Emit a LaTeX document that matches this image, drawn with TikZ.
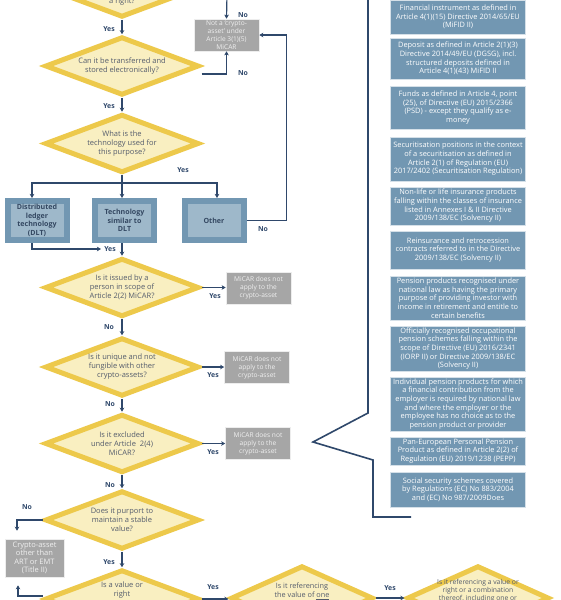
\documentclass[tikz,border=0pt]{standalone}
\usepackage{fontspec}
\setmainfont{Open Sans}
\usetikzlibrary{shapes.geometric,arrows.meta,calc}
\definecolor{gold}{RGB}{237,201,75}
\definecolor{pale}{RGB}{249,239,193}
\definecolor{qtext}{RGB}{84,92,108}
\definecolor{navy}{RGB}{47,72,107}
\definecolor{greybox}{RGB}{166,166,166}
\definecolor{greytext}{RGB}{240,240,240}
\definecolor{bluebox}{RGB}{114,151,178}
\definecolor{bluein}{RGB}{158,184,202}
\definecolor{boxtext}{RGB}{52,72,98}
\tikzset{
  ydiam/.style={diamond, draw=gold, fill=pale, line width=5pt, aspect=2.6, inner sep=0pt,
    minimum width=154pt, minimum height=58.6pt, text=qtext, align=center,
    font=\fontsize{7.5}{9}\selectfont},
  bigdiam/.style={ydiam, minimum width=142pt, minimum height=64.6pt},
  qtxt/.style={text=qtext, align=center, inner sep=0pt, font=\fontsize{7.5}{9}\selectfont},
  greyb/.style={rectangle, fill=greybox, draw=white!80!greybox, line width=0.6pt, text=greytext,
    align=center, inner sep=0pt, minimum width=65pt, minimum height=32pt,
    font=\fontsize{6.6}{8}\selectfont},
  techb/.style={rectangle, fill=bluein, draw=bluebox, line width=6pt, minimum width=59pt,
    minimum height=39pt, text=boxtext, align=center, inner sep=0pt,
    font=\fontsize{7.1}{8.7}\selectfont\bfseries},
  exb/.style={rectangle, fill=bluebox, draw=white!70!bluebox, line width=0.6pt, minimum width=135pt,
    text=white, align=center, inner sep=0pt, font=\fontsize{7.4}{8.7}\selectfont},
  arr/.style={draw=navy, line width=1.2pt, -{Stealth[length=4pt,width=4.5pt,inset=1pt]}},
  plainline/.style={draw=navy, line width=1.2pt},
  lbl/.style={text=navy, inner sep=0pt, font=\fontsize{6.9}{8}\selectfont\bfseries},
  brk/.style={draw=navy, line width=1.6pt},
}
\begin{document}
\begin{tikzpicture}[x=1pt,y=-1pt]
\useasboundingbox (0,0) rectangle (560,600);
\fill[white] (0,0) rectangle (560,600);

% bracket
\draw[brk] (368,-6) -- (368,413) -- (313,442) -- (373,460) -- (373,517) -- (411,517);

% diamonds
\node[ydiam] (d1) at (122,-12) {};
\node[qtxt] (d1t) at (122,2) {a right?};
\node[ydiam] (d2) at (122,66) {Can it be transferred and\\stored electronically?};
\node[ydiam] (d3) at (122,143.5) {What is the\\technology used for\\this purpose?};
\node[ydiam] (d4) at (122,287.5) {Is it issued by a\\person in scope of\\Article 2(2) MiCAR?};
\node[ydiam] (d5) at (122,367) {Is it unique and not\\fungible with other\\crypto-assets?};
\node[ydiam] (d6) at (122,443.5) {Is it excluded\\under Article~~2(4)\\MiCAR?};
\node[ydiam] (d7) at (122,520) {Does it purport to\\maintain a stable\\value?};
\node[ydiam] (d8) at (122,599) {};
\node[qtxt] (d8t) at (122,590.5) {Is a value or\\right};
\node[bigdiam] (d9) at (302,598) {};
\node[qtxt, font=\fontsize{7.3}{9}\selectfont] (d9t) at (302,591.5) {Is it referencing\\the value of \underline{one}};
\node[bigdiam] (d10) at (478,598) {};
\node[qtxt, font=\fontsize{6.8}{8}\selectfont] (d10t) at (478,591) {Is it referencing a value or\\right or a combination\\thereof, including one or};

% technology boxes
\node[techb] (bA) at (37,220.5) {Distributed\\ledger\\technology\\(DLT)};
\node[techb] (bB) at (124.5,220.5) {Technology\\similar to\\DLT};
\node[techb] (bC) at (214,220.5) {Other};

% grey result boxes
\node[greyb] (na) at (226.5,35) {Not a ‘crypto-\\asset’ under\\Article 3(1)(5)\\MiCAR};
\node[greyb] (g1) at (258.5,288) {MiCAR does not\\apply to the\\crypto-asset};
\node[greyb] (g2) at (257,367.5) {MiCAR does not\\apply to the\\crypto-asset};
\node[greyb] (g3) at (258,443.5) {MiCAR does not\\apply to the\\crypto-asset};
\node[greyb, minimum width=59pt, minimum height=38pt, font=\fontsize{7.5}{8.4}\selectfont] (ca) at (34.5,558) {Crypto-asset\\other than\\ART or EMT\\(Title II)};

% exclusion boxes
\node[exb, minimum height=34pt] (x1) at (458,17) {Financial instrument as defined in\\Article 4(1)(15) Directive 2014/65/EU\\(MiFID II)};
\node[exb, minimum height=41pt] (x2) at (458,58.5) {Deposit as defined in Article 2(1)(3)\\Directive 2014/49/EU (DGSG), incl.\\structured deposits defined in\\Article 4(1)(43) MiFID II};
\node[exb, minimum height=43pt] (x3) at (458,107.5) {Funds as defined in Article 4, point\\(25), of Directive (EU) 2015/2366\\(PSD) - except they qualify as e-\\money};
\node[exb, minimum height=44pt] (x4) at (458,159) {Securitisation positions in the context\\of a securitisation as defined in\\Article 2(1) of Regulation (EU)\\2017/2402 (Securitisation Regulation)};
\node[exb, minimum height=38pt] (x5) at (458,206) {Non-life or life insurance products\\falling within the classes of insurance\\listed in Annexes I \& II Directive\\2009/138/EC (Solvency II)};
\node[exb, minimum height=38pt] (x6) at (458,250) {Reinsurance and retrocession\\contracts referred to in the Directive\\2009/138/EC (Solvency II)};
\node[exb, minimum height=44pt] (x7) at (458,298) {Pension products recognised under\\national law as having the primary\\purpose of providing investor with\\income in retirement and entitle to\\certain benefits};
\node[exb, minimum height=45pt] (x8) at (458,348.5) {Officially recognised occupational\\pension schemes falling within the\\scope of Directive (EU) 2016/2341\\(IORP II) or Directive 2009/138/EC\\(Solvency II)};
\node[exb, minimum height=54pt] (x9) at (458,404) {Individual pension products for which\\a financial contribution from the\\employer is required by national law\\and where the employer or the\\employee has no choice as to the\\pension product or provider};
\node[exb, minimum height=28pt] (x10) at (458,451) {Pan-European Personal Pension\\Product as defined in Article 2(2) of\\Regulation (EU) 2019/1238 (PEPP)};
\node[exb, minimum height=35pt] (x11) at (458,489.5) {Social security schemes covered\\by Regulations (EC) No 883/2004\\and (EC) No 987/2009Does};

% connectors
\coordinate (natop) at (227,-6);
\draw[arr] (natop) -- (na.north);
\node[lbl] at (243,15) {No};
\draw[arr] (d1.south) -- (d2.north);
\node[lbl] at (109,29) {Yes};
\draw[arr] ([yshift=-8pt]d2.east) -| (na.south);
\node[lbl] at (243,73) {No};
\draw[arr] (d2.south) -- (d3.north);
\node[lbl] at (109,106) {Yes};

\coordinate (br) at (122,183);
\draw[plainline] (d3.south) -- (br);
\draw[arr] (br) -| ([xshift=-5pt]bA.north);
\draw[arr] (br) -- (br |- bB.north);
\draw[arr] (br) -| ([xshift=3pt]bC.north);
\node[lbl] at (183,170) {Yes};

\coordinate (yesin) at (101,249);
\draw[arr] ([xshift=-5pt]bA.south) |- (yesin);
\node[lbl] at (110,249) {Yes};
\draw[arr] (d4.north |- bB.south) -- (d4.north);
\draw[arr] (bC.east) -- ++(40,0) |- (na.east);
\node[lbl] at (263,229) {No};

\draw[arr] (d4.east) -- (d4.east -| g1.west);
\node[lbl] at (215,296) {Yes};
\draw[arr] (d4.south) -- (d5.north);
\node[lbl] at (109,327) {No};
\draw[arr] (d5.east) -- (d5.east -| g2.west);
\node[lbl] at (213,375) {Yes};
\draw[arr] (d5.south) -- (d6.north);
\node[lbl] at (110,404) {No};
\draw[arr] (d6.east) -- (d6.east -| g3.west);
\node[lbl] at (213,452) {Yes};
\draw[arr] (d6.south) -- (d7.north);
\node[lbl] at (110,485) {No};
\draw[arr] (d7.west) -| ([xshift=-17.5pt,yshift=8pt]ca.north);
\node[lbl] at (27,507) {No};
\draw[arr] (d7.south) -- (d8.north);
\node[lbl] at (109,562) {Yes};
\draw[arr] ([yshift=3pt]d8.west) -| ([xshift=-16.5pt,yshift=-8pt]ca.south);
\draw[arr] (d8.east) -- (d8.east -| d9.west);
\node[lbl] at (213,587) {Yes};
\draw[arr] (d9.east) -- (d9.east -| d10.west);
\node[lbl] at (390,588) {Yes};
\end{tikzpicture}
\end{document}
